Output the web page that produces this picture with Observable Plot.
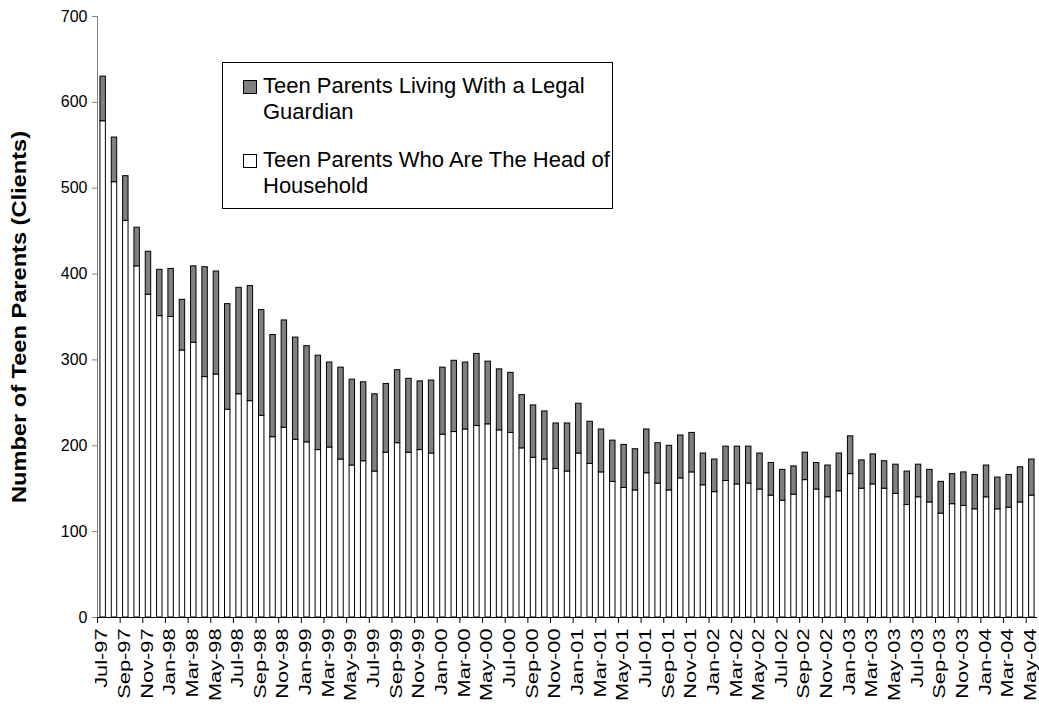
<!DOCTYPE html>
<html>
<head>
<meta charset="utf-8">
<script src="https://cdn.jsdelivr.net/npm/d3@7"></script>
<script src="https://cdn.jsdelivr.net/npm/@observablehq/plot@0.6"></script>
<style>
  html, body { margin: 0; padding: 0; background: #fff; }
  #wrap { position: relative; width: 1039px; height: 708px; font-family: "Liberation Sans", Arial, sans-serif; }
  #legend { position: absolute; left: 222px; top: 62px; width: 391px; height: 147px; box-sizing: border-box; border: 1px solid #000; background: #fff; }
  .sw { position: absolute; width: 14px; height: 14px; box-sizing: border-box; border: 1px solid #000; }
  .lt { position: absolute; font-size: 22px; line-height: 26px; color: #000; white-space: nowrap; }
</style>
</head>
<body>
<div id="wrap"></div>
<script>
const months = ["Jul-97","Aug-97","Sep-97","Oct-97","Nov-97","Dec-97",
  "Jan-98","Feb-98","Mar-98","Apr-98","May-98","Jun-98","Jul-98","Aug-98","Sep-98","Oct-98","Nov-98","Dec-98",
  "Jan-99","Feb-99","Mar-99","Apr-99","May-99","Jun-99","Jul-99","Aug-99","Sep-99","Oct-99","Nov-99","Dec-99",
  "Jan-00","Feb-00","Mar-00","Apr-00","May-00","Jun-00","Jul-00","Aug-00","Sep-00","Oct-00","Nov-00","Dec-00",
  "Jan-01","Feb-01","Mar-01","Apr-01","May-01","Jun-01","Jul-01","Aug-01","Sep-01","Oct-01","Nov-01","Dec-01",
  "Jan-02","Feb-02","Mar-02","Apr-02","May-02","Jun-02","Jul-02","Aug-02","Sep-02","Oct-02","Nov-02","Dec-02",
  "Jan-03","Feb-03","Mar-03","Apr-03","May-03","Jun-03","Jul-03","Aug-03","Sep-03","Oct-03","Nov-03","Dec-03",
  "Jan-04","Feb-04","Mar-04","Apr-04","May-04"];

// Teen Parents Who Are The Head of Household
const headOfHousehold = [578,507,462,409,376,351,350,311,320,280,
  283,242,260,252,235,210,221,207,204,195,
  198,184,177,182,170,192,203,192,195,191,
  213,216,219,223,225,218,215,197,186,184,
  173,170,191,179,169,158,151,148,168,156,
  148,162,169,154,146,159,155,156,149,142,
  136,143,160,149,140,147,167,150,155,150,
  144,131,140,134,121,132,130,126,140,126,
  128,134,142];

// Teen Parents Living With a Legal Guardian
const legalGuardian = [52,52,52,45,50,54,56,59,89,128,
  120,123,124,134,123,119,125,119,112,110,
  99,107,100,92,90,80,85,86,80,85,
  78,83,78,84,73,71,70,62,61,56,
  53,56,58,49,50,48,50,48,51,47,
  52,50,46,37,38,40,44,43,42,38,
  36,33,32,31,37,44,44,33,35,32,
  34,39,38,38,37,35,39,40,37,37,
  38,41,42];

const yTicks = [0,100,200,300,400,500,600,700];
const tickMonths = months.filter((m, i) => i % 2 === 0);
const seriesNames = ["Teen Parents Who Are The Head of Household", "Teen Parents Living With a Legal Guardian"];
const yTitle = "Number of Teen Parents (Clients)";

const rows = [];
months.forEach((m, i) => rows.push({month: m, series: seriesNames[0], value: headOfHousehold[i]}));
months.forEach((m, i) => rows.push({month: m, series: seriesNames[1], value: legalGuardian[i]}));

const W = 1039, H = 708, ML = 97, MR = 2, MT = 16, MB = 91;
const step = (W - ML - MR) / months.length;
const font = "Liberation Sans, Arial, sans-serif";

const chart = Plot.plot({
  width: W, height: H,
  marginLeft: ML, marginRight: MR, marginTop: MT, marginBottom: MB,
  style: {fontFamily: font, background: "white", color: "black"},
  x: {type: "band", domain: months, paddingInner: 0.52, paddingOuter: 0.26, round: false, axis: null},
  y: {domain: [0, 700], axis: null},
  color: {domain: seriesNames, range: ["white", "#808080"]},
  marks: [
    Plot.barY(rows, {x: "month", y: "value", fill: "series", stroke: "black", strokeWidth: 1}),
    Plot.ruleY([0], {stroke: "black", strokeWidth: 1}),
    Plot.ruleX([months[0]], {dx: -step / 2, stroke: "#808080", strokeWidth: 1}),
    Plot.axisY({ticks: yTicks, tickSize: 5, tickPadding: 5, fontSize: 16, label: null, stroke: "#808080", color: "black"}),
    Plot.axisX({ticks: tickMonths, tickSize: 6, tickFormat: () => "", dx: -step / 2, label: null}),
    Plot.axisX({ticks: tickMonths, tickSize: 0, tickPadding: 11, tickRotate: -90, fontSize: 16, dx: -1, label: null}),
    Plot.text([yTitle], {frameAnchor: "left", textAnchor: "middle", rotate: -90, dx: -78, fontWeight: "bold", fontSize: 20, text: d => d})
  ]
});

const wrap = document.getElementById("wrap");
wrap.appendChild(chart);

// stretch texts lengthwise like the original rendering
d3.select(chart).selectAll("text").each(function () {
  const t = this.textContent;
  if (tickMonths.includes(t)) {
    const L = this.getComputedTextLength();
    this.setAttribute("textLength", L * 1.36);
    this.setAttribute("lengthAdjust", "spacingAndGlyphs");
  } else if (t === yTitle) {
    this.setAttribute("textLength", 372);
    this.setAttribute("lengthAdjust", "spacingAndGlyphs");
  }
});

const legend = document.createElement("div");
legend.id = "legend";
legend.innerHTML = `
  <div class="sw" style="left:20px;top:17px;background:#808080"></div>
  <div class="lt" style="left:40px;top:10px">Teen Parents Living With a Legal<br>Guardian</div>
  <div class="sw" style="left:20px;top:91px;background:#fff"></div>
  <div class="lt" style="left:40px;top:84px">Teen Parents Who Are The Head of<br>Household</div>`;
wrap.appendChild(legend);
</script>
</body>
</html>
